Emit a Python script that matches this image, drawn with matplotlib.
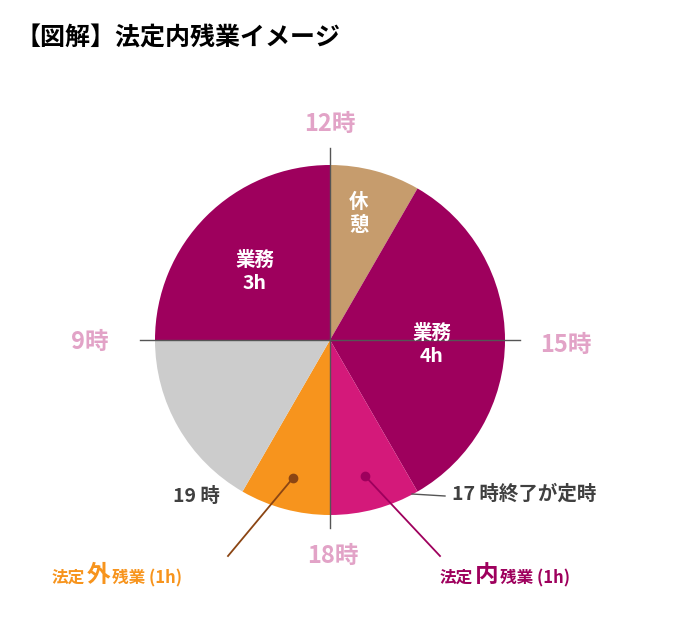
import matplotlib
matplotlib.use("Agg")
import matplotlib.pyplot as plt

plt.rcParams['font.family'] = ['Noto Sans CJK JP', 'DejaVu Sans']

segments = ["休憩", "業務4h", "法定内残業", "法定外残業", "空き", "業務3h"]
hours = [1, 4, 1, 1, 2, 3]
colors = ["#C69C6D", "#9E005D", "#D4197A", "#F7941D", "#CCCCCC", "#9E005D"]

fig = plt.figure(figsize=(6.96, 6.18), dpi=100)
ax = fig.add_axes([0, 0, 1, 1])

cx, cy, r = 330, 340, 175
ax.pie(hours, colors=colors, startangle=-90, counterclock=True, center=(cx, cy), radius=r,
       wedgeprops=dict(linewidth=0))
ax.set_xlim(0, 696); ax.set_ylim(618, 0); ax.axis('off')
ax.set_aspect('equal')

lc = "#555555"
ax.plot([cx, cx], [148, cy], color=lc, lw=1)
ax.plot([cx, cx], [cy, 528], color=lc, lw=1)
ax.plot([140, cx], [cy, cy], color=lc, lw=1)
ax.plot([cx, 520], [cy, cy], color=lc, lw=1)
ax.plot([412, 445], [494, 496], color=lc, lw=1)

pink = "#E2A3C7"
ax.text(cx, 124, "12時", color=pink, fontsize=17, fontweight='bold', ha='center', va='center')
ax.text(90, 342, "9時", color=pink, fontsize=17, fontweight='bold', ha='center', va='center')
ax.text(566, 345, "15時", color=pink, fontsize=17, fontweight='bold', ha='center', va='center')
ax.text(333, 556, "18時", color=pink, fontsize=17, fontweight='bold', ha='center', va='center')

dark = "#404040"
ax.text(196, 496, "19 時", color=dark, fontsize=14, fontweight='bold', ha='center', va='center')
ax.text(452, 494, "17 時終了が定時", color=dark, fontsize=14, fontweight='bold', ha='left', va='center')

ax.text(15, 38, "【図解】法定内残業イメージ", color="black", fontsize=18, fontweight='bold', ha='left', va='center')

w = dict(color="white", fontsize=14, fontweight='bold', ha='center', va='center', linespacing=1.3)
ax.text(359, 214, "休\n憩", **w)
ax.text(432, 345, "業務\n4h", **w)
ax.text(255, 272, "業務\n3h", **w)

ax.plot([293, 228], [478, 556], color="#8B4513", lw=1.3)
ax.plot(293, 478, 'o', color="#8B4513", ms=6)
ax.plot([365, 440], [476, 556], color="#9E005D", lw=1.3)
ax.plot(365, 476, 'o', color="#9E005D", ms=6)

orange = "#F7941D"; mag = "#9E005D"
for x0, mid, col in [(52, "外", orange), (440, "内", mag)]:
    ax.text(x0, 578, "法定", color=col, fontsize=12, fontweight='bold', ha='left', va='center')
    ax.text(x0 + 35, 575, mid, color=col, fontsize=17, fontweight='bold', ha='left', va='center')
    ax.text(x0 + 60, 578, "残業 (1h)", color=col, fontsize=12, fontweight='bold', ha='left', va='center')

fig.savefig("out.png", dpi=100)
